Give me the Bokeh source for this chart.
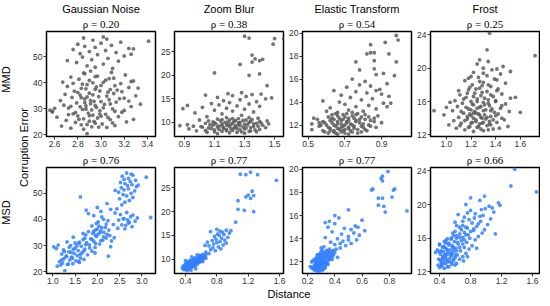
from math import pi
from bokeh.plotting import figure
from bokeh.layouts import row, column
from bokeh.models import Range1d, FixedTicker, PrintfTickFormatter, Title, Label
from bokeh.embed import file_html
from bokeh.resources import INLINE

# ---------------- data ----------------
corruptions = ["Gaussian Noise", "Zoom Blur", "Elastic Transform", "Frost"]
rho_mmd = ["0.20", "0.38", "0.54", "0.25"]
rho_msd = ["0.76", "0.77", "0.77", "0.66"]

mmd_xticks = [[2.6, 2.8, 3.0, 3.2, 3.4], [0.9, 1.1, 1.3, 1.5], [0.5, 0.7, 0.9], [1.0, 1.2, 1.4, 1.6]]
msd_xticks = [[1.0, 1.5, 2.0, 2.5, 3.0], [0.4, 0.8, 1.2, 1.6], [0.2, 0.4, 0.6, 0.8], [0.4, 0.8, 1.2, 1.6]]
err_yticks = [[20, 30, 40, 50], [10, 15, 20, 25], [12, 14, 16, 18, 20], [12, 16, 20, 24]]

mmd_xrange = [(2.53, 3.47), (0.834, 1.559), (0.469, 1.063), (0.871, 1.756)]
msd_xrange = [(0.858, 3.308), (0.26, 1.65), (0.163, 0.963), (0.283, 1.69)]
err_yrange = [(19.4, 59.7), (7.0, 29.3), (11.0, 20.15), (11.8, 24.4)]

# Gaussian Noise
gn_err = [20.5, 22.6, 22.9, 23.1, 23.4, 23.6, 23.9, 24.2, 24.5, 24.8,
          25.0, 25.3, 25.6, 25.9, 26.2, 26.5, 26.8, 27.0, 27.3, 27.6,
          27.9, 28.1, 28.4, 28.7, 29.0, 29.3, 29.5, 29.8, 30.0, 30.3,
          30.6, 30.9, 31.1, 31.4, 31.7, 32.0, 32.3, 32.6, 32.9, 33.2,
          33.5, 33.8, 34.1, 34.4, 34.7, 35.0, 35.3, 35.6, 30.2, 28.9,
          31.8, 26.0, 23.0, 24.0, 27.2, 29.6, 36.0, 36.4, 36.8, 37.2,
          37.5, 37.9, 38.2, 38.6, 39.0, 39.3, 39.7, 40.0, 40.3, 40.7,
          41.0, 41.4, 41.8, 42.2, 42.6, 43.0, 43.5, 44.0, 44.5, 48.5,
          46.0, 38.0, 40.5, 43.8, 45.5, 46.5, 47.2, 47.8, 48.3, 48.9,
          49.4, 49.9, 50.3, 50.8, 51.2, 51.6, 52.0, 52.4, 52.8, 53.2,
          53.6, 54.0, 54.4, 54.8, 55.2, 55.6, 56.0, 56.4, 56.8, 57.2,
          57.6, 53.0, 51.0]
gn_mmd = [2.88, 2.74, 3.05, 2.92, 2.66, 3.12, 2.83, 3.01, 2.95, 2.78,
          3.22, 2.90, 2.70, 3.08, 2.85, 2.97, 2.62, 3.15, 2.80, 2.93,
          3.04, 2.76, 2.89, 3.18, 2.58, 2.99, 2.56, 2.84, 3.10, 2.72,
          2.96, 3.26, 2.87, 2.68, 3.03, 2.91, 2.79, 3.13, 2.94, 2.65,
          3.07, 2.86, 3.20, 2.75, 2.98, 3.30, 2.82, 2.69, 2.60, 2.58,
          3.34, 3.28, 2.98, 2.88, 3.00, 2.92, 2.90, 3.06, 2.77, 3.14,
          2.95, 2.83, 3.24, 2.71, 3.00, 2.88, 3.17, 2.93, 2.67, 3.28,
          3.04, 2.81, 3.11, 2.74, 2.97, 3.21, 2.86, 3.09, 2.91, 2.71,
          2.95, 3.32, 3.26, 2.85, 3.10, 2.88, 3.02, 2.79, 3.15, 2.92,
          3.06, 2.84, 3.20, 2.97, 2.82, 3.13, 2.90, 3.04, 2.76, 3.24,
          2.95, 2.86, 3.09, 2.80, 3.00, 3.17, 3.41, 2.93, 3.05, 2.85,
          3.02, 3.28, 3.26]
gn_msd = [1.27, 1.18, 1.33, 1.45, 1.22, 1.60, 1.15, 1.52, 1.38, 1.70,
          1.25, 1.62, 1.42, 1.31, 1.55, 1.78, 1.20, 1.48, 1.66, 1.36,
          1.88, 1.57, 1.24, 1.72, 1.50, 1.95, 1.02, 1.64, 1.40, 1.82,
          2.05, 1.58, 1.76, 1.32, 1.92, 2.12, 1.68, 1.85, 2.20, 1.46,
          1.98, 2.28, 1.74, 2.02, 1.90, 2.15, 1.80, 2.08, 1.12, 1.08,
          2.32, 2.25, 1.35, 1.58, 1.95, 2.30, 1.96, 2.62, 2.10, 2.78,
          1.88, 2.55, 2.20, 2.70, 2.02, 2.85, 2.48, 2.14, 2.60, 3.20,
          2.75, 1.92, 2.52, 1.80, 2.66, 2.08, 1.75, 2.44, 2.00, 1.62,
          2.22, 2.36, 2.90, 2.30, 2.55, 2.62, 2.72, 2.50, 2.80, 2.66,
          2.58, 2.76, 2.48, 2.84, 2.60, 2.70, 2.54, 2.88, 2.68, 2.78,
          2.62, 2.52, 2.74, 2.86, 2.60, 2.70, 3.10, 2.56, 2.80, 2.76,
          2.66, 2.92, 2.40]
gn_core_err = [25.2, 26.0, 26.7, 27.4, 28.0, 28.6, 29.1, 29.9, 30.4, 30.8,
               31.3, 31.9, 32.4, 32.8, 33.3, 33.9, 34.3, 34.9, 35.4, 35.9,
               36.3, 36.9, 37.4, 37.7, 38.4, 38.9, 39.5, 40.2, 40.9, 41.6,
               42.4, 27.8, 29.4, 31.0, 33.0, 34.6, 36.6, 39.8, 24.6, 22.2]
gn_core_mmd = [2.94, 2.81, 3.06, 2.90, 2.99, 2.78, 3.12, 2.87, 3.02, 2.82,
               2.95, 3.08, 2.86, 3.00, 2.91, 3.16, 2.83, 3.05, 2.93, 3.11,
               2.80, 2.99, 3.08, 2.87, 2.96, 3.12, 2.84, 3.02, 2.90, 3.07,
               2.95, 2.72, 3.20, 2.74, 3.24, 2.88, 3.18, 2.76, 3.10, 2.85]
gn_core_msd = [1.44, 1.30, 1.62, 1.41, 1.70, 1.46, 1.83, 1.54, 1.74, 1.96,
               1.60, 2.08, 1.88, 1.72, 2.14, 1.96, 2.22, 2.06, 1.92, 2.26,
               2.00, 2.18, 2.04, 2.64, 1.98, 2.72, 2.24, 2.58, 2.10, 2.80,
               2.40, 1.26, 1.37, 1.50, 2.38, 1.68, 2.46, 2.68, 1.20, 1.10]

# Zoom Blur
zb_err = [7.6, 7.8, 7.9, 8.0, 8.1, 8.2, 8.2, 8.3, 8.4, 8.5,
          8.5, 8.6, 8.7, 8.7, 8.8, 8.9, 9.0, 9.0, 9.1, 9.2,
          9.2, 9.3, 9.4, 9.4, 9.5, 9.6, 9.6, 9.7, 9.8, 9.8,
          9.9, 10.0, 10.0, 10.1, 10.2, 10.3, 10.3, 10.4, 10.5, 10.5,
          10.6, 10.7, 10.8, 10.9, 11.0, 8.9, 9.3, 7.7, 8.0, 9.7,
          9.5, 11.2, 11.5, 11.8, 12.0, 12.2, 12.4, 12.6, 12.8, 13.0,
          13.2, 13.4, 13.5, 13.7, 13.9, 14.0, 14.2, 14.4, 14.6, 14.8,
          15.0, 15.2, 15.3, 15.5, 15.7, 15.9, 16.1, 16.3, 16.0, 12.9,
          13.6, 15.8, 17.8, 20.5, 20.3, 20.0, 22.3, 22.8, 23.1, 23.5,
          24.3, 23.4, 26.6, 27.8, 27.9, 28.3, 27.8]
zb_mmd = [1.12, 1.20, 1.05, 1.28, 1.15, 0.98, 1.34, 1.22, 1.10, 1.40,
          1.18, 0.93, 1.25, 1.08, 1.31, 1.16, 1.02, 1.24, 1.36, 1.13,
          0.96, 1.27, 1.19, 1.42, 1.07, 1.30, 1.21, 1.11, 1.38, 1.04,
          1.26, 1.17, 1.33, 1.09, 1.23, 1.45, 1.14, 1.29, 1.00, 1.20,
          1.35, 1.12, 1.26, 1.39, 1.18, 1.44, 0.87, 1.30, 1.38, 1.46,
          0.92, 1.05, 1.28, 1.15, 0.97, 1.36, 1.22, 1.10, 1.30, 1.18,
          1.02, 1.40, 1.25, 1.13, 1.33, 1.08, 1.20, 1.38, 1.16, 1.27,
          1.44, 1.48, 1.12, 1.31, 1.22, 1.35, 1.19, 1.28, 1.41, 0.89,
          0.92, 1.04, 1.45, 1.10, 1.40, 1.33, 1.27, 1.35, 1.40, 1.37,
          1.35, 1.42, 1.49, 1.50, 1.33, 1.30, 1.56]
zb_msd = [0.42, 0.38, 0.45, 0.40, 0.36, 0.43, 0.47, 0.39, 0.44, 0.50,
          0.41, 0.37, 0.46, 0.52, 0.43, 0.48, 0.40, 0.55, 0.45, 0.50,
          0.42, 0.53, 0.47, 0.58, 0.44, 0.51, 0.56, 0.49, 0.60, 0.46,
          0.54, 0.58, 0.50, 0.62, 0.55, 0.61, 0.52, 0.59, 0.48, 0.64,
          0.57, 0.60, 0.63, 0.55, 0.66, 0.49, 0.43, 0.47, 0.53, 0.40,
          0.62, 0.70, 0.66, 0.78, 0.72, 0.85, 0.75, 0.82, 0.70, 0.88,
          0.76, 0.92, 0.80, 0.84, 0.74, 0.90, 0.79, 0.86, 0.94, 0.77,
          0.83, 0.89, 0.81, 0.96, 0.87, 0.84, 0.92, 0.80, 0.98, 0.65,
          0.68, 0.72, 1.04, 1.07, 1.15, 1.27, 1.07, 1.23, 1.17, 1.20,
          1.25, 1.27, 1.56, 1.32, 1.10, 1.23, 1.17]
zb_core_err = [7.9, 8.0, 8.1, 8.2, 8.3, 8.4, 8.4, 8.5, 8.6, 8.6,
               8.7, 8.8, 8.8, 8.9, 9.0, 9.0, 9.1, 9.1, 9.2, 9.3,
               9.3, 9.4, 9.5, 9.5, 9.6, 9.7, 9.7, 9.8, 9.9, 9.9,
               10.0, 10.1, 10.2, 10.3, 10.4, 10.5, 10.6, 10.8, 11.0, 10.2]
zb_core_mmd = [1.25, 1.10, 1.33, 1.18, 1.04, 1.27, 1.37, 1.13, 1.21, 1.30,
               1.16, 1.06, 1.23, 1.34, 1.12, 1.29, 1.20, 1.01, 1.39, 1.15,
               1.24, 1.09, 1.32, 1.18, 1.26, 1.36, 1.15, 1.22, 1.10, 1.41,
               1.27, 1.19, 1.34, 1.06, 1.24, 1.31, 1.15, 1.22, 1.33, 1.40]
zb_core_msd = [0.40, 0.44, 0.38, 0.46, 0.41, 0.48, 0.43, 0.39, 0.50, 0.45,
               0.42, 0.47, 0.53, 0.41, 0.49, 0.44, 0.52, 0.46, 0.54, 0.48,
               0.57, 0.51, 0.47, 0.55, 0.59, 0.52, 0.57, 0.50, 0.60, 0.56,
               0.62, 0.53, 0.58, 0.56, 0.63, 0.60, 0.65, 0.58, 0.62, 0.66]

# Elastic Transform
et_err = [11.2, 11.3, 11.3, 11.4, 11.4, 11.5, 11.5, 11.6, 11.6, 11.6,
          11.7, 11.7, 11.8, 11.8, 11.9, 11.9, 11.9, 12.0, 12.0, 12.0,
          12.1, 12.1, 12.1, 12.2, 12.2, 12.3, 12.3, 12.3, 12.4, 12.4,
          12.5, 12.5, 12.5, 12.6, 12.6, 12.7, 12.7, 12.8, 12.8, 12.9,
          12.9, 13.0, 13.0, 11.5, 11.8, 12.2, 12.6, 12.0, 11.4, 12.4,
          13.1, 13.2, 13.3, 13.4, 13.5, 13.6, 13.7, 13.8, 13.9, 14.0,
          14.1, 14.2, 14.3, 14.4, 14.5, 14.6, 14.8, 14.9, 15.0, 15.1,
          15.3, 15.4, 15.5, 15.6, 15.8, 16.0, 13.2, 14.7, 13.6, 15.0,
          13.9, 16.3, 16.4, 16.5, 16.8, 16.9, 17.5, 17.5, 17.6, 18.2,
          18.3, 18.3, 18.2, 19.0, 19.2, 19.4, 19.8]
et_mmd = [0.66, 0.70, 0.61, 0.74, 0.64, 0.69, 0.58, 0.77, 0.52, 0.67,
          0.72, 0.62, 0.80, 0.68, 0.56, 0.75, 0.65, 0.70, 0.60, 0.83,
          0.73, 0.52, 0.66, 0.78, 0.63, 0.71, 0.86, 0.58, 0.68, 0.76,
          0.64, 0.81, 0.55, 0.72, 0.67, 0.79, 0.61, 0.74, 0.88, 0.69,
          0.63, 0.77, 0.71, 0.82, 0.87, 0.90, 0.53, 0.57, 0.79, 0.84,
          0.66, 0.80, 0.72, 0.87, 0.62, 0.76, 0.83, 0.70, 0.91, 0.67,
          0.58, 0.79, 0.85, 0.73, 0.94, 0.68, 0.82, 0.76, 0.64, 0.89,
          0.71, 0.84, 0.78, 0.93, 0.81, 0.74, 0.60, 0.90, 0.93, 0.87,
          0.95, 0.97, 0.87, 0.91, 0.78, 0.86, 0.76, 0.98, 0.86, 0.82,
          0.84, 0.86, 0.94, 0.84, 0.92, 0.99, 0.98]
et_msd = [0.27, 0.29, 0.25, 0.31, 0.26, 0.28, 0.24, 0.30, 0.22, 0.27,
          0.33, 0.25, 0.29, 0.31, 0.26, 0.28, 0.34, 0.27, 0.30, 0.32,
          0.29, 0.24, 0.35, 0.31, 0.28, 0.33, 0.36, 0.26, 0.30, 0.38,
          0.32, 0.29, 0.34, 0.35, 0.27, 0.31, 0.37, 0.33, 0.40, 0.36,
          0.30, 0.34, 0.39, 0.33, 0.35, 0.38, 0.28, 0.23, 0.32, 0.42,
          0.36, 0.44, 0.32, 0.48, 0.40, 0.52, 0.37, 0.46, 0.56, 0.42,
          0.33, 0.50, 0.58, 0.45, 0.54, 0.38, 0.52, 0.47, 0.35, 0.55,
          0.40, 0.33, 0.36, 0.60, 0.43, 0.40, 0.30, 0.62, 0.44, 0.57,
          0.50, 0.77, 0.93, 0.50, 0.76, 0.72, 0.72, 0.75, 0.82, 0.67,
          0.68, 0.84, 0.83, 0.75, 0.74, 0.75, 0.79]
et_core_err = [11.2, 11.3, 11.3, 11.4, 11.4, 11.5, 11.5, 11.6, 11.6, 11.7,
               11.7, 11.8, 11.8, 11.9, 11.9, 12.0, 12.0, 12.1, 12.1, 12.2,
               12.2, 12.3, 12.3, 12.4, 12.4, 12.5, 12.5, 12.6, 12.6, 12.7,
               12.7, 12.8, 12.9, 12.9, 13.0, 11.5, 11.9, 12.2, 12.6, 13.1]
et_core_mmd = [0.72, 0.65, 0.77, 0.68, 0.59, 0.73, 0.64, 0.70, 0.81, 0.66,
               0.75, 0.61, 0.72, 0.69, 0.79, 0.64, 0.74, 0.68, 0.80, 0.59,
               0.71, 0.66, 0.76, 0.62, 0.72, 0.69, 0.78, 0.63, 0.75, 0.70,
               0.83, 0.66, 0.76, 0.81, 0.65, 0.62, 0.84, 0.56, 0.86, 0.74]
et_core_msd = [0.29, 0.27, 0.31, 0.24, 0.29, 0.26, 0.32, 0.28, 0.25, 0.30,
               0.27, 0.33, 0.26, 0.30, 0.32, 0.28, 0.34, 0.26, 0.30, 0.32,
               0.36, 0.29, 0.31, 0.35, 0.27, 0.37, 0.33, 0.30, 0.38, 0.34,
               0.29, 0.32, 0.38, 0.35, 0.31, 0.23, 0.34, 0.25, 0.39, 0.41]

# Frost
fr_err = [12.4, 12.5, 12.6, 12.7, 12.8, 12.9, 13.0, 13.0, 13.1, 13.2,
          13.3, 13.4, 13.5, 13.5, 13.6, 13.7, 13.8, 13.9, 14.0, 14.0,
          14.1, 14.2, 14.3, 14.4, 14.4, 14.5, 14.6, 14.7, 14.7, 14.8,
          14.9, 14.9, 15.0, 15.1, 15.2, 15.3, 15.4, 15.5, 15.6, 15.7,
          15.8, 15.9, 16.0, 16.0, 16.1, 16.2, 16.3, 16.4, 16.5, 16.6,
          16.7, 16.8, 16.9, 17.0, 17.2, 17.4, 17.5, 17.6, 17.8, 18.0,
          18.2, 18.3, 18.5, 18.7, 18.9, 19.1, 19.3, 19.5, 19.8, 20.0,
          20.2, 20.5, 20.8, 21.0, 21.5, 22.2, 24.2, 19.6, 18.8, 15.3,
          13.8, 17.3, 16.5, 14.8, 12.8, 13.3, 15.9, 19.9, 17.9, 14.3,
          13.6, 14.1, 14.5, 14.9, 15.2, 13.9, 12.9, 15.6, 14.6, 13.4]
fr_mmd = [1.22, 1.30, 1.15, 1.38, 1.08, 1.25, 1.50, 1.19, 1.33, 1.02,
          1.27, 1.12, 1.41, 1.21, 1.35, 1.06, 1.24, 1.17, 1.45, 1.29,
          1.10, 1.36, 1.20, 0.98, 1.31, 1.26, 1.14, 1.60, 1.39, 1.23,
          0.90, 1.05, 1.32, 1.18, 1.44, 1.27, 1.09, 1.35, 1.22, 1.48,
          1.13, 1.30, 1.40, 1.20, 1.07, 1.34, 1.25, 1.52, 1.16, 1.38,
          1.28, 1.11, 1.45, 1.23, 1.33, 1.18, 1.42, 1.27, 1.36, 1.21,
          1.48, 1.30, 1.15, 1.39, 1.26, 1.33, 1.44, 1.22, 1.37, 1.30,
          1.46, 1.25, 1.34, 1.27, 1.72, 1.33, 1.35, 1.52, 1.18, 1.00,
          1.47, 1.10, 1.56, 1.51, 1.43, 1.35, 1.03, 1.41, 1.29, 1.40,
          1.24, 1.28, 1.19, 1.36, 1.25, 1.32, 1.18, 1.31, 1.22, 1.29]
fr_msd = [0.46, 0.40, 0.52, 0.43, 0.38, 0.56, 0.48, 0.62, 0.42, 0.50,
          0.58, 0.45, 0.66, 0.39, 0.53, 0.60, 0.70, 0.47, 0.55, 0.63,
          0.41, 0.74, 0.51, 0.58, 0.45, 0.67, 0.54, 0.78, 0.49, 0.61,
          0.44, 0.72, 0.57, 0.82, 0.52, 0.64, 0.48, 0.75, 0.59, 0.68,
          0.86, 0.55, 0.79, 0.62, 0.70, 0.90, 0.58, 0.77, 0.66, 0.95,
          0.72, 0.60, 0.84, 0.98, 0.76, 0.88, 0.70, 1.02, 0.82, 0.93,
          0.78, 1.06, 0.72, 0.96, 0.86, 1.10, 0.80, 0.99, 1.04, 0.74,
          1.16, 0.92, 0.80, 0.98, 1.65, 1.32, 1.37, 1.08, 0.64, 0.40,
          0.76, 0.66, 1.12, 0.88, 0.60, 0.71, 0.50, 1.18, 0.60, 0.35,
          0.44, 0.50, 0.42, 0.47, 0.40, 0.55, 0.43, 0.46, 0.37, 0.49]
fr_core_err = [13.0, 13.2, 13.4, 13.5, 13.7, 13.8, 14.0, 14.1, 14.2, 14.4,
               14.5, 14.6, 14.8, 14.9, 15.0, 15.1, 15.3, 15.4, 15.5, 15.7,
               15.8, 16.0, 16.1, 16.3, 16.4, 16.6, 16.8, 17.0, 17.1, 17.3,
               17.5, 17.7, 18.0, 18.4, 18.6, 19.0, 19.4, 12.6, 13.1, 12.7]
fr_core_mmd = [1.26, 1.36, 1.20, 1.30, 1.15, 1.38, 1.22, 1.33, 1.17, 1.27,
               1.42, 1.24, 1.12, 1.30, 1.20, 1.37, 1.16, 1.28, 1.45, 1.21,
               1.34, 1.25, 1.40, 1.14, 1.31, 1.22, 1.36, 1.17, 1.29, 1.41,
               1.24, 1.19, 1.34, 1.27, 1.41, 1.20, 1.30, 1.34, 1.11, 1.28]
fr_core_msd = [0.45, 0.53, 0.41, 0.58, 0.48, 0.44, 0.60, 0.47, 0.55, 0.40,
               0.62, 0.50, 0.58, 0.66, 0.45, 0.56, 0.70, 0.52, 0.63, 0.48,
               0.72, 0.55, 0.66, 0.62, 0.74, 0.57, 0.80, 0.68, 0.84, 0.74,
               0.62, 0.90, 0.70, 0.85, 0.92, 0.76, 0.94, 0.50, 0.55, 0.42]

errors = [gn_err + gn_core_err, zb_err + zb_core_err, et_err + et_core_err, fr_err + fr_core_err]
mmd_vals = [gn_mmd + gn_core_mmd, zb_mmd + zb_core_mmd, et_mmd + et_core_mmd, fr_mmd + fr_core_mmd]
msd_vals = [gn_msd + gn_core_msd, zb_msd + zb_core_msd, et_msd + et_core_msd, fr_msd + fr_core_msd]

# ---------------- style ----------------
GRAY = "#5c5c5c"
BLUE = "#3380ff"
SANS = "Liberation Sans"
SERIF = "Liberation Serif"
FRAME_W = 109
LABEL_W = 30


def make_panel(col, x, y, xr, yr, xticks, yticks, rho, name, color, top):
    lb = 15 if col == 0 else 14
    rb = 1 if col == 3 else 3
    p = figure(frame_width=FRAME_W, frame_height=105 if top else 106,
               x_range=Range1d(*xr), y_range=Range1d(*yr),
               output_backend="svg", toolbar_location=None, tools="",
               min_border_left=lb, min_border_right=rb,
               min_border_top=25 if top else 14, min_border_bottom=14 if top else 13,
               title=name if top else "\u03c1 = " + rho)
    p.title.text_font = SANS if top else SERIF
    p.title.text_font_size = "11px"
    p.title.text_font_style = "normal"
    p.title.text_color = "black"
    p.title.align = "center"
    p.title.standoff = 0 if top else 3
    p.title.offset = 0
    if top:
        p.add_layout(Title(text="\u03c1 = " + rho, align="center", text_font=SERIF,
                           text_font_size="11px", text_font_style="normal",
                           text_color="black", standoff=3), "above")
    p.scatter(x, y, size=3.8, fill_color=color, line_color=None, fill_alpha=0.85)
    p.xgrid.visible = False
    p.ygrid.visible = False
    p.outline_line_color = "black"
    p.outline_line_width = 1.5
    p.outline_line_alpha = 1.0
    p.xaxis.ticker = FixedTicker(ticks=xticks)
    p.yaxis.ticker = FixedTicker(ticks=yticks)
    p.xaxis.formatter = PrintfTickFormatter(format="%.1f")
    p.yaxis.formatter = PrintfTickFormatter(format="%d")
    for ax in (p.xaxis[0], p.yaxis[0]):
        ax.axis_line_color = None
        ax.major_tick_in = 0
        ax.major_tick_out = 3
        ax.major_tick_line_color = "#333333"
        ax.minor_tick_line_color = None
        ax.major_label_text_font = SANS
        ax.major_label_text_font_size = "8.5px"
        ax.major_label_text_color = "#333333"
        ax.major_label_standoff = 1
    return p


top_row, bottom_row = [], []
for i in range(4):
    top_row.append(make_panel(i, mmd_vals[i], errors[i], mmd_xrange[i], err_yrange[i],
                              mmd_xticks[i], err_yticks[i], rho_mmd[i], corruptions[i], GRAY, True))
    bottom_row.append(make_panel(i, msd_vals[i], errors[i], msd_xrange[i], err_yrange[i],
                                 msd_xticks[i], err_yticks[i], rho_msd[i], corruptions[i], BLUE, False))

grid = column(row(*top_row), row(*bottom_row))

GRID_H = 277
left = figure(frame_width=LABEL_W, frame_height=GRID_H, x_range=Range1d(0, LABEL_W),
              y_range=Range1d(GRID_H, 0), output_backend="svg", toolbar_location=None,
              tools="", x_axis_type=None, y_axis_type=None, min_border=0)
left.outline_line_color = None
left.xgrid.visible = False
left.ygrid.visible = False
for txt, lx, ly in [("MMD", 5, 79), ("MSD", 5, 212), ("Corruption Error", 23, 147)]:
    left.add_layout(Label(x=lx, y=ly, text=txt, angle=pi / 2, text_align="center",
                          text_baseline="middle", text_font=SANS, text_font_size="11px",
                          text_color="black"))

TOTAL_W = LABEL_W + 4 * (FRAME_W + 17) - 2
bottom = figure(frame_width=TOTAL_W, frame_height=13, x_range=Range1d(0, TOTAL_W),
                y_range=Range1d(0, 13), output_backend="svg", toolbar_location=None,
                tools="", x_axis_type=None, y_axis_type=None, min_border=0)
bottom.outline_line_color = None
bottom.xgrid.visible = False
bottom.ygrid.visible = False
bottom.add_layout(Label(x=288.5, y=6, text="Distance", text_align="center",
                        text_baseline="middle", text_font=SANS, text_font_size="11px",
                        text_color="black"))

layout = column(row(left, grid), bottom)
open("out.html", "w").write(file_html(layout, INLINE))
